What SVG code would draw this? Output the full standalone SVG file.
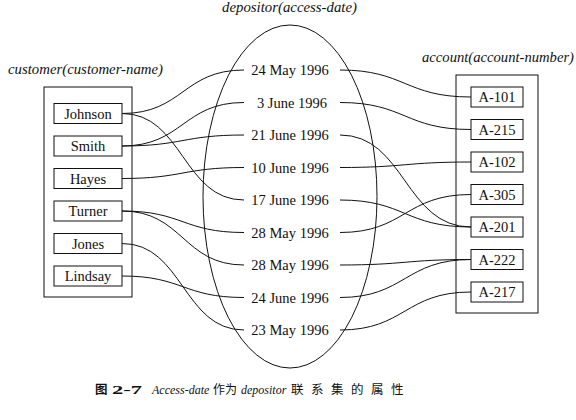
<svg xmlns="http://www.w3.org/2000/svg" width="576" height="420" viewBox="0 0 576 420">
<style>
.lbl{font-family:"Liberation Serif","Times New Roman",serif;font-style:italic;font-size:14px;fill:#111}
.t{font-family:"Liberation Serif","Times New Roman",serif;font-size:14.5px;fill:#111;text-anchor:middle}
.box{fill:#fff;stroke:#111;stroke-width:1}
.outer{fill:none;stroke:#111;stroke-width:1}
.c path{fill:none;stroke:#111;stroke-width:1}
.cap{font-family:"Noto Sans CJK SC","Liberation Serif",sans-serif;font-size:12.5px;fill:#111}
.capi{font-family:"Liberation Serif","Times New Roman",serif;font-style:italic;font-size:12px;fill:#111}
</style>
<rect width="576" height="420" fill="#fff"/>

<!-- entity set labels -->
<text class="lbl" x="8" y="74" textLength="155" lengthAdjust="spacingAndGlyphs">customer(customer-name)</text>
<text class="lbl" x="422" y="62" textLength="152" lengthAdjust="spacingAndGlyphs">account(account-number)</text>
<text class="lbl" x="222" y="12" textLength="135" lengthAdjust="spacingAndGlyphs">depositor(access-date)</text>

<!-- outer sets -->
<rect id="customer-set" class="outer" x="44" y="87" width="88" height="210"/>
<rect id="account-set" class="outer" x="456" y="75" width="82" height="238"/>
<ellipse id="depositor-set" cx="290" cy="196.5" rx="87" ry="171.5" fill="none" stroke="#111" stroke-width="1"/>

<!-- connectors -->
<g id="connectors" class="c">
<path d="M122,113.5 C183,113.5 183,70 244,70"/>
<path d="M122,113.5 C183,113.5 183,200 244,200"/>
<path d="M122,146 C183,146 183,102.5 244,102.5"/>
<path d="M122,146 C183,146 183,135 244,135"/>
<path d="M122,178.5 C183,178.5 183,167.5 244,167.5"/>
<path d="M122,211 C183,211 183,232.5 244,232.5"/>
<path d="M122,211 C183,211 183,265 244,265"/>
<path d="M122,243.5 C183,243.5 183,330 244,330"/>
<path d="M122,276 C183,276 183,297.5 244,297.5"/>

<path d="M340,70 C405,70 405,97 471,97"/>
<path d="M340,102.5 C405,102.5 405,129.5 471,129.5"/>
<path d="M340,135 C405,135 405,227 471,227"/>
<path d="M340,167.5 C405,167.5 405,162 471,162"/>
<path d="M340,200 C405,200 405,227 471,227"/>
<path d="M340,232.5 C405,232.5 405,194.5 471,194.5"/>
<path d="M340,265 C405,265 405,259.5 471,259.5"/>
<path d="M340,297.5 C405,297.5 405,259.5 471,259.5"/>
<path d="M340,330 C405,330 405,292 471,292"/>
</g>

<!-- customers -->
<g id="johnson"><rect class="box" x="54" y="103.5" width="68" height="20"/><text class="t" x="88" y="118.5">Johnson</text></g>
<g id="smith"><rect class="box" x="54" y="136" width="68" height="20"/><text class="t" x="88" y="151">Smith</text></g>
<g id="hayes"><rect class="box" x="54" y="168.5" width="68" height="20"/><text class="t" x="88" y="183.5">Hayes</text></g>
<g id="turner"><rect class="box" x="54" y="201" width="68" height="20"/><text class="t" x="88" y="216">Turner</text></g>
<g id="jones"><rect class="box" x="54" y="233.5" width="68" height="20"/><text class="t" x="88" y="248.5">Jones</text></g>
<g id="lindsay"><rect class="box" x="54" y="266" width="68" height="20"/><text class="t" x="88" y="281">Lindsay</text></g>

<!-- dates -->
<g id="d1"><text class="t" x="290" y="75">24 May 1996</text></g>
<g id="d2"><text class="t" x="292" y="107.5">3 June 1996</text></g>
<g id="d3"><text class="t" x="290" y="140">21 June 1996</text></g>
<g id="d4"><text class="t" x="290" y="172.5">10 June 1996</text></g>
<g id="d5"><text class="t" x="290" y="205">17 June 1996</text></g>
<g id="d6"><text class="t" x="290" y="237.5">28 May 1996</text></g>
<g id="d7"><text class="t" x="290" y="270">28 May 1996</text></g>
<g id="d8"><text class="t" x="290" y="302.5">24 June 1996</text></g>
<g id="d9"><text class="t" x="290" y="335">23 May 1996</text></g>

<!-- accounts -->
<g id="a101"><rect class="box" x="471" y="87" width="52" height="20"/><text class="t" x="497" y="102">A-101</text></g>
<g id="a215"><rect class="box" x="471" y="119.5" width="52" height="20"/><text class="t" x="497" y="134.5">A-215</text></g>
<g id="a102"><rect class="box" x="471" y="152" width="52" height="20"/><text class="t" x="497" y="167">A-102</text></g>
<g id="a305"><rect class="box" x="471" y="184.5" width="52" height="20"/><text class="t" x="497" y="199.5">A-305</text></g>
<g id="a201"><rect class="box" x="471" y="217" width="52" height="20"/><text class="t" x="497" y="232">A-201</text></g>
<g id="a222"><rect class="box" x="471" y="249.5" width="52" height="20"/><text class="t" x="497" y="264.5">A-222</text></g>
<g id="a217"><rect class="box" x="471" y="282" width="52" height="20"/><text class="t" x="497" y="297">A-217</text></g>

<!-- caption -->
<text class="cap" x="95" y="394" font-weight="bold">图</text>
<text class="cap" x="112" y="394" font-weight="bold" textLength="30" lengthAdjust="spacingAndGlyphs" style="font-family:'Liberation Serif',serif;font-size:13px">2-7</text>
<text class="capi" x="152" y="394">Access-date</text>
<text class="cap" x="213" y="394" style="font-size:12px">作为</text>
<text class="capi" x="241" y="394">depositor</text>
<text class="cap" x="291" y="394" letter-spacing="7.5">联系集的属性</text>
</svg>
